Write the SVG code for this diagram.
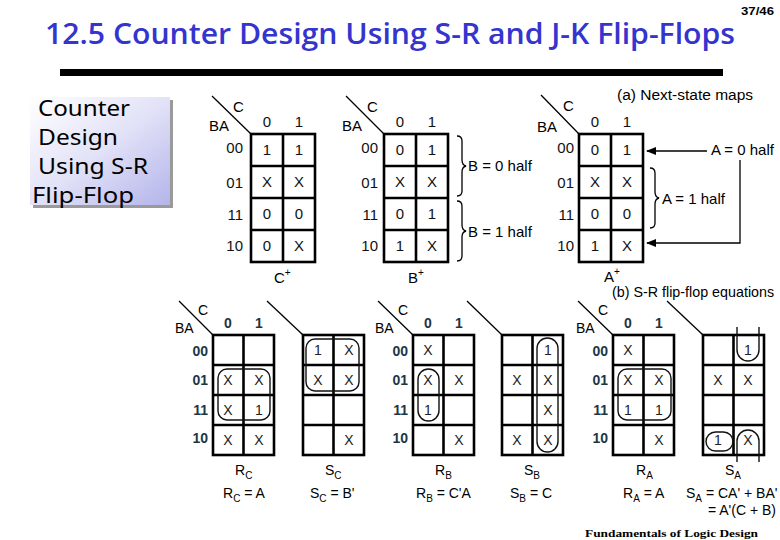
<svg xmlns="http://www.w3.org/2000/svg" width="780" height="540" viewBox="0 0 780 540">
<defs>
<linearGradient id="boxg" x1="0" y1="0" x2="1" y2="1">
<stop offset="0" stop-color="#ffffff"/>
<stop offset="0.5" stop-color="#e2e2f8"/>
<stop offset="1" stop-color="#b4b4ea"/>
</linearGradient>
<marker id="ah" markerWidth="10" markerHeight="8" refX="9" refY="4" orient="auto" markerUnits="userSpaceOnUse">
<path d="M0,0 L10,4 L0,8 z" fill="#000"/>
</marker>
<style>
.t{font-family:"Liberation Sans",Arial,sans-serif;fill:#000}
.v{font-family:"Liberation Sans",Arial,sans-serif;font-size:15px;text-anchor:middle;fill:#111}
.sv{font-family:"Liberation Sans",Arial,sans-serif;font-size:14px;text-anchor:middle;fill:#222}
.rl{font-family:"Liberation Sans",Arial,sans-serif;font-size:15px;text-anchor:end;fill:#111}
.bl{font-family:"Liberation Sans",Arial,sans-serif;font-size:14px;font-weight:bold;fill:#1e3644}
.grid{fill:none;stroke:#000;stroke-width:2.6}
.thin{fill:none;stroke:#000;stroke-width:1.3}
.loop{fill:none;stroke:#111;stroke-width:1.4}
.side{font-family:"Noto Sans","Open Sans",sans-serif;font-size:22px;fill:#000}
</style>
</defs>
<rect width="780" height="540" fill="#fff"/>

<g id="header">
<text x="45" y="44" font-family="'Open Sans','Noto Sans',sans-serif" font-size="28" font-weight="600" fill="#3434cf" textLength="690" lengthAdjust="spacingAndGlyphs">12.5 Counter Design Using S-R and J-K Flip-Flops</text>
<text x="741" y="15" font-family="'Liberation Sans',Arial,sans-serif" font-size="11" font-weight="bold" textLength="33" lengthAdjust="spacingAndGlyphs">37/46</text>
<rect x="60" y="69" width="663" height="7" fill="#000"/>
</g>

<g id="sidebox">
<rect x="33" y="100" width="140" height="108" fill="#9a9a9a"/>
<rect x="30" y="97" width="140" height="108" fill="url(#boxg)"/>
<text class="side" x="38" y="116" textLength="92" lengthAdjust="spacingAndGlyphs">Counter</text>
<text class="side" x="38" y="145" textLength="80" lengthAdjust="spacingAndGlyphs">Design</text>
<text class="side" x="38" y="174" textLength="110" lengthAdjust="spacingAndGlyphs">Using S-R</text>
<text class="side" x="32" y="203" textLength="102" lengthAdjust="spacingAndGlyphs">Flip-Flop</text>
</g>

<!-- (a) next-state maps -->
<g id="map-Cplus">
<line class="thin" x1="212" y1="96" x2="251" y2="134"/>
<text class="t" x="233" y="112" font-size="15">C</text>
<text class="t" x="209" y="131" font-size="15">BA</text>
<text class="v" x="267" y="127">0</text><text class="v" x="299" y="127">1</text>
<text class="rl" x="243" y="153">00</text><text class="rl" x="243" y="188">01</text><text class="rl" x="243" y="220">11</text><text class="rl" x="243" y="251">10</text>
<rect class="grid" x="251" y="134" width="64" height="128"/>
<path class="grid" d="M283,134V262M251,166H315M251,198H315M251,230H315"/>
<text class="v" x="267" y="155">1</text><text class="v" x="299" y="155">1</text>
<text class="v" x="267" y="187">X</text><text class="v" x="299" y="187">X</text>
<text class="v" x="267" y="219">0</text><text class="v" x="299" y="219">0</text>
<text class="v" x="267" y="251">0</text><text class="v" x="299" y="251">X</text>
<text class="t" x="274" y="283" font-size="15">C<tspan dy="-7" font-size="10">+</tspan></text>
</g>

<g id="map-Bplus">
<line class="thin" x1="346" y1="96" x2="384" y2="134"/>
<text class="t" x="367" y="112" font-size="15">C</text>
<text class="t" x="342" y="131" font-size="15">BA</text>
<text class="v" x="400" y="127">0</text><text class="v" x="432" y="127">1</text>
<text class="rl" x="378" y="153">00</text><text class="rl" x="378" y="188">01</text><text class="rl" x="378" y="220">11</text><text class="rl" x="378" y="251">10</text>
<rect class="grid" x="384" y="134" width="64" height="128"/>
<path class="grid" d="M416,134V262M384,166H448M384,198H448M384,230H448"/>
<text class="v" x="400" y="155">0</text><text class="v" x="432" y="155">1</text>
<text class="v" x="400" y="187">X</text><text class="v" x="432" y="187">X</text>
<text class="v" x="400" y="219">0</text><text class="v" x="432" y="219">1</text>
<text class="v" x="400" y="251">1</text><text class="v" x="432" y="251">X</text>
<text class="t" x="408" y="283" font-size="15">B<tspan dy="-7" font-size="10">+</tspan></text>
</g>

<g id="map-Aplus">
<line class="thin" x1="541" y1="95" x2="579" y2="134"/>
<text class="t" x="563" y="111" font-size="15">C</text>
<text class="t" x="537" y="132" font-size="15">BA</text>
<text class="v" x="595" y="127">0</text><text class="v" x="627" y="127">1</text>
<text class="rl" x="574" y="153">00</text><text class="rl" x="574" y="188">01</text><text class="rl" x="574" y="220">11</text><text class="rl" x="574" y="251">10</text>
<rect class="grid" x="579" y="134" width="64" height="128"/>
<path class="grid" d="M611,134V262M579,166H643M579,198H643M579,230H643"/>
<text class="v" x="595" y="155">0</text><text class="v" x="627" y="155">1</text>
<text class="v" x="595" y="187">X</text><text class="v" x="627" y="187">X</text>
<text class="v" x="595" y="219">0</text><text class="v" x="627" y="219">0</text>
<text class="v" x="595" y="251">1</text><text class="v" x="627" y="251">X</text>
<text class="t" x="604" y="282" font-size="15">A<tspan dy="-7" font-size="10">+</tspan></text>
</g>

<g id="annotations-a">
<text class="t" x="617" y="100" font-size="15.5">(a) Next-state maps</text>
<text class="t" x="468" y="171" font-size="15">B = 0 half</text>
<text class="t" x="468" y="237" font-size="15">B = 1 half</text>
<text class="t" x="711" y="155" font-size="15">A = 0 half</text>
<text class="t" x="662" y="204" font-size="15">A = 1 half</text>
</g>

<g id="connectors">
<path class="thin" d="M457,136 q5,0 5,5 v19 q0,5 4,6 q-4,1 -4,6 v19 q0,5 -5,5"/>
<path class="thin" d="M457,201 q5,0 5,5 v19 q0,5 4,6 q-4,1 -4,6 v19 q0,5 -5,5"/>
<path class="thin" d="M650,168 q5,0 5,5 v19 q0,5 4,6 q-4,1 -4,6 v19 q0,5 -5,5"/>
<line class="thin" x1="707" y1="151" x2="647" y2="151" marker-end="url(#ah)"/>
<polyline class="thin" points="740,160 740,243 647,243" marker-end="url(#ah)"/>
</g>

<!-- (b) S-R flip-flop equations -->
<text class="t" x="612" y="297" font-size="14.3">(b) S-R flip-flop equations</text>

<g id="map-RC">
<line class="thin" x1="179" y1="301" x2="213" y2="335"/>
<text class="t" x="198" y="315" font-size="14">C</text>
<text class="t" x="175" y="333" font-size="14">BA</text>
<text class="bl" x="228" y="328" text-anchor="middle">0</text><text class="bl" x="259" y="328" text-anchor="middle">1</text>
<text class="bl" x="208" y="356" text-anchor="end">00</text><text class="bl" x="208" y="385" text-anchor="end">01</text><text class="bl" x="208" y="415" text-anchor="end">11</text><text class="bl" x="208" y="443" text-anchor="end">10</text>
<rect class="grid" x="213" y="335" width="61" height="120"/>
<path class="grid" d="M243.5,335V455M213,365H274M213,395H274M213,425H274"/>
<text class="sv" x="228" y="385">X</text><text class="sv" x="259" y="385">X</text>
<text class="sv" x="228" y="415">X</text><text class="sv" x="259" y="415">1</text>
<text class="sv" x="228" y="445">X</text><text class="sv" x="259" y="445">X</text>
<rect class="loop" x="218" y="369" width="52" height="51" rx="9"/>
<text class="t" x="235" y="475" font-size="14">R<tspan dy="4" font-size="10">C</tspan></text>
<text class="t" x="223" y="498" font-size="14">R<tspan dy="4" font-size="10">C</tspan><tspan dy="-4"> = A</tspan></text>
</g>

<g id="map-SC">
<line class="thin" x1="267" y1="301" x2="303" y2="335"/>
<rect class="grid" x="303" y="335" width="61" height="120"/>
<path class="grid" d="M333.5,335V455M303,365H364M303,395H364M303,425H364"/>
<text class="sv" x="318" y="355">1</text><text class="sv" x="349" y="355">X</text>
<text class="sv" x="318" y="385">X</text><text class="sv" x="349" y="385">X</text>
<text class="sv" x="349" y="445">X</text>
<rect class="loop" x="306" y="339" width="53" height="52" rx="9"/>
<text class="t" x="325" y="475" font-size="14">S<tspan dy="4" font-size="10">C</tspan></text>
<text class="t" x="310" y="498" font-size="14">S<tspan dy="4" font-size="10">C</tspan><tspan dy="-4"> = B'</tspan></text>
</g>

<g id="map-RB">
<line class="thin" x1="378" y1="301" x2="413" y2="335"/>
<text class="t" x="398" y="315" font-size="14">C</text>
<text class="t" x="375" y="333" font-size="14">BA</text>
<text class="bl" x="428" y="328" text-anchor="middle">0</text><text class="bl" x="459" y="328" text-anchor="middle">1</text>
<text class="bl" x="408" y="356" text-anchor="end">00</text><text class="bl" x="408" y="385" text-anchor="end">01</text><text class="bl" x="408" y="415" text-anchor="end">11</text><text class="bl" x="408" y="443" text-anchor="end">10</text>
<rect class="grid" x="413" y="335" width="61" height="120"/>
<path class="grid" d="M443.5,335V455M413,365H474M413,395H474M413,425H474"/>
<text class="sv" x="428" y="355">X</text>
<text class="sv" x="428" y="385">X</text><text class="sv" x="459" y="385">X</text>
<text class="sv" x="428" y="415">1</text>
<text class="sv" x="459" y="445">X</text>
<rect class="loop" x="418" y="369" width="21" height="52" rx="10.5"/>
<text class="t" x="435" y="475" font-size="14">R<tspan dy="4" font-size="10">B</tspan></text>
<text class="t" x="416" y="498" font-size="14">R<tspan dy="4" font-size="10">B</tspan><tspan dy="-4"> = C'A</tspan></text>
</g>

<g id="map-SB">
<line class="thin" x1="467" y1="301" x2="502" y2="335"/>
<rect class="grid" x="502" y="335" width="61" height="120"/>
<path class="grid" d="M532.5,335V455M502,365H563M502,395H563M502,425H563"/>
<text class="sv" x="548" y="355">1</text>
<text class="sv" x="517" y="385">X</text><text class="sv" x="548" y="385">X</text>
<text class="sv" x="548" y="415">X</text>
<text class="sv" x="517" y="445">X</text><text class="sv" x="548" y="445">X</text>
<rect class="loop" x="537" y="338" width="21" height="114" rx="10.5"/>
<text class="t" x="524" y="475" font-size="14">S<tspan dy="4" font-size="10">B</tspan></text>
<text class="t" x="510" y="498" font-size="14">S<tspan dy="4" font-size="10">B</tspan><tspan dy="-4"> = C</tspan></text>
</g>

<g id="map-RA">
<line class="thin" x1="578" y1="301" x2="613" y2="335"/>
<text class="t" x="598" y="315" font-size="14">C</text>
<text class="t" x="576" y="333" font-size="14">BA</text>
<text class="bl" x="628" y="328" text-anchor="middle">0</text><text class="bl" x="659" y="328" text-anchor="middle">1</text>
<text class="bl" x="608" y="356" text-anchor="end">00</text><text class="bl" x="608" y="385" text-anchor="end">01</text><text class="bl" x="608" y="415" text-anchor="end">11</text><text class="bl" x="608" y="443" text-anchor="end">10</text>
<rect class="grid" x="613" y="335" width="61" height="120"/>
<path class="grid" d="M643.5,335V455M613,365H674M613,395H674M613,425H674"/>
<text class="sv" x="628" y="355">X</text>
<text class="sv" x="628" y="385">X</text><text class="sv" x="659" y="385">X</text>
<text class="sv" x="628" y="415">1</text><text class="sv" x="659" y="415">1</text>
<text class="sv" x="659" y="445">X</text>
<rect class="loop" x="618" y="369" width="53" height="51" rx="9"/>
<text class="t" x="636" y="475" font-size="14">R<tspan dy="4" font-size="10">A</tspan></text>
<text class="t" x="623" y="498" font-size="14">R<tspan dy="4" font-size="10">A</tspan><tspan dy="-4"> = A</tspan></text>
</g>

<g id="map-SA">
<line class="thin" x1="667" y1="301" x2="703" y2="335"/>
<rect class="grid" x="703" y="335" width="61" height="120"/>
<path class="grid" d="M733.5,335V455M703,365H764M703,395H764M703,425H764"/>
<text class="sv" x="748" y="355">1</text>
<text class="sv" x="718" y="385">X</text><text class="sv" x="748" y="385">X</text>
<text class="sv" x="718" y="445">1</text><text class="sv" x="748" y="445">X</text>
<path class="loop" d="M737,327 V350 a11,11 0 0 0 22,0 V327"/>
<path class="loop" d="M737,462 V441 a11,11 0 0 1 22,0 V462"/>
<rect class="loop" x="706" y="432" width="27" height="19" rx="9.5"/>
<text class="t" x="725" y="475" font-size="14">S<tspan dy="4" font-size="10">A</tspan></text>
<text class="t" x="686" y="498" font-size="14">S<tspan dy="4" font-size="10">A</tspan><tspan dy="-4"> = CA' + BA'</tspan></text>
<text class="t" x="776" y="515" font-size="14" text-anchor="end">= A'(C + B)</text>
</g>

<g id="footer">
<text x="585" y="537" font-family="'Liberation Serif','Times New Roman',serif" font-size="11" font-weight="bold" textLength="173" lengthAdjust="spacingAndGlyphs">Fundamentals of Logic Design</text>
</g>
</svg>
